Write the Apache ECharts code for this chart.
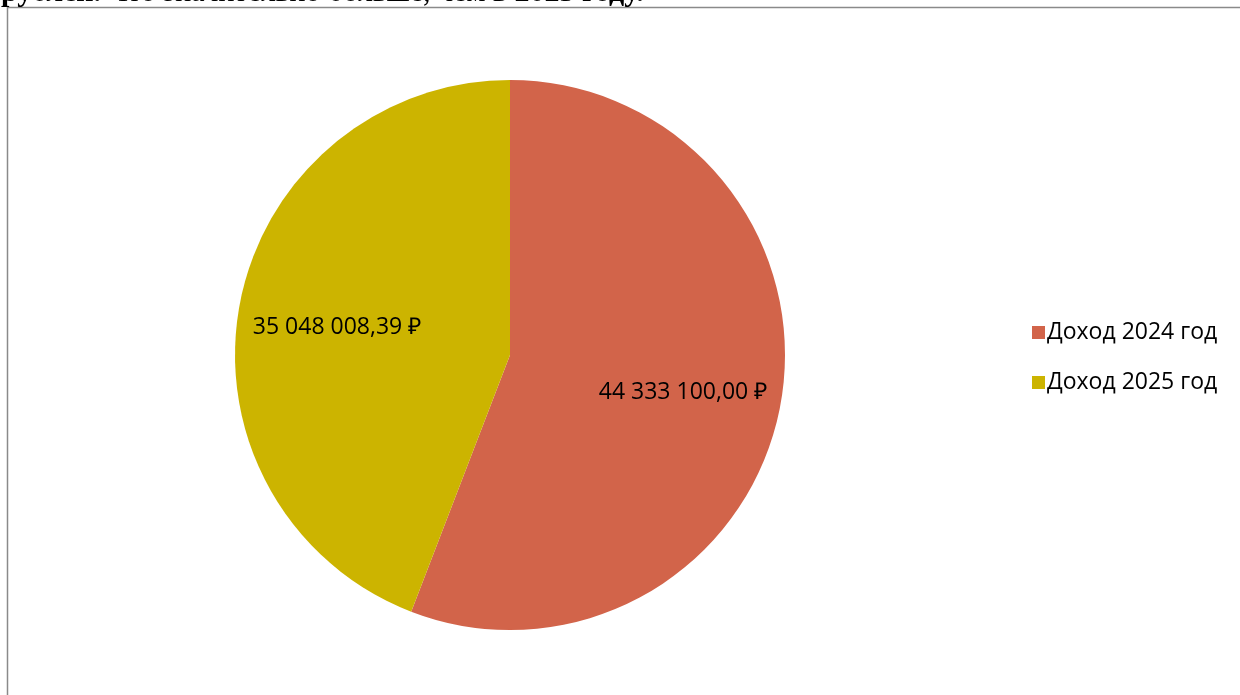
<!DOCTYPE html>
<html><head><meta charset="utf-8">
<script src="https://cdn.jsdelivr.net/npm/echarts@6/dist/echarts.min.js"></script>
<style>html,body{margin:0;padding:0;background:#fff;}#c{width:1240px;height:695px;}</style>
</head><body><div id="c"></div>
<script>
const categories = ['Доход 2024 год', 'Доход 2025 год'];
const values = [44333100.00, 35048008.39];
const colors = ['#D2644A', '#CCB400'];

function fmt(v){
  const parts = v.toFixed(2).split('.');
  return parts[0].replace(/\B(?=(\d{3})+(?!\d))/g, ' ') + ',' + parts[1] + ' ₽';
}
const data = categories.map((n,i)=>({name:n, value:values[i], itemStyle:{color:colors[i]}}));

const chart = echarts.init(document.getElementById('c'), null, {renderer:'canvas'});
chart.setOption({
  animation:false,
  backgroundColor:'#fff',
  graphic:[
    {type:'rect', shape:{x:7.5,y:7.5,width:1300,height:800}, style:{fill:'none',stroke:'#8a8a8a',lineWidth:1.5}, z:0},
    {type:'text', left:1, top:-22, style:{
      text:'{b|рублей.} Что значительно больше, чем в {b|2025 году.}',
      font:'30px "Liberation Serif"', fill:'#000',
      rich:{b:{fontWeight:'bold', fontFamily:'Liberation Serif', fontSize:30}}
    }, z:10}
  ],
  legend:{
    orient:'vertical', left:1027, top:316, itemGap:27, itemWidth:13, itemHeight:13,
    icon:'rect', data:categories,
    textStyle:{fontFamily:'Open Sans', fontSize:23, color:'#000', padding:[0,0,0,-3]}
  },
  series:[
    {type:'pie', center:[510,355], radius:[0,275], startAngle:90, clockwise:true,
     silent:true, data:data, label:{show:false}, labelLine:{show:false},
     itemStyle:{borderWidth:0}},
    {type:'pie', center:[510,355], radius:[77,275], startAngle:90, clockwise:true,
     silent:true, legendHoverLink:false,
     data:categories.map((n,i)=>({name:n+' ', value:values[i], itemStyle:{color:'rgba(0,0,0,0)'}})),
     label:{show:true, position:'inside', formatter:p=>fmt(p.value),
       fontFamily:'Open Sans', fontSize:23, color:'#000'},
     labelLayout:p=>({dy:5, dx:p.dataIndex===0?-3:3}),
     labelLine:{show:false}, emphasis:{disabled:true}}
  ]
});
</script></body></html>
